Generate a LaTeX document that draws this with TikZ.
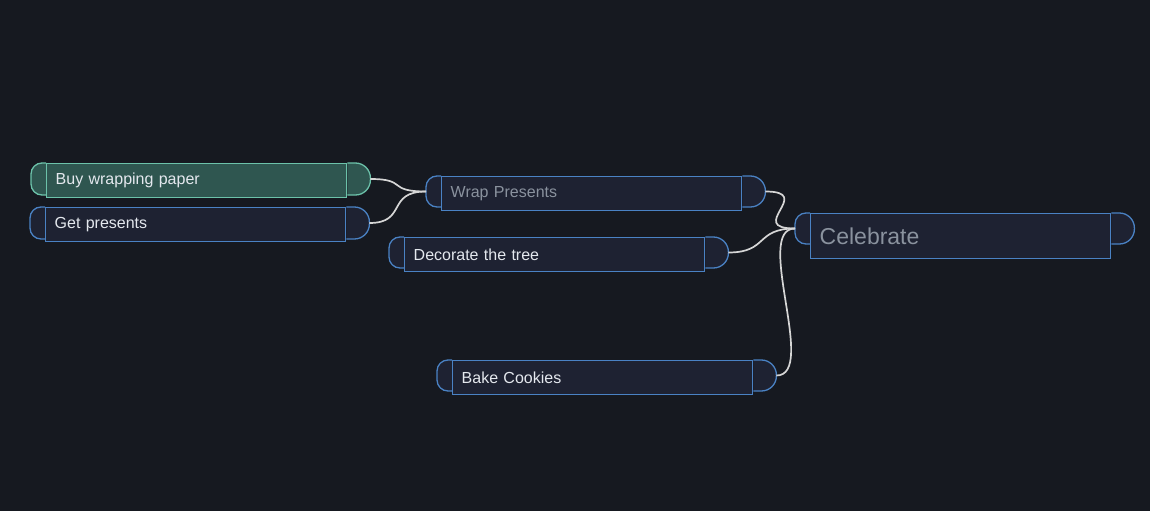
\documentclass[tikz,border=0pt]{standalone}
\usepackage{fontspec}
\setmainfont{Liberation Sans}
\usetikzlibrary{backgrounds}
\definecolor{bgc}{HTML}{161920}
\definecolor{bf}{HTML}{1E2232}
\definecolor{bl}{HTML}{4A82C4}
\definecolor{tf}{HTML}{2F5650}
\definecolor{tl}{HTML}{6CC2AA}
\definecolor{tx}{HTML}{E4E8EE}
\definecolor{gt}{HTML}{8A929E}
\definecolor{cn}{HTML}{D6D6D6}
\tikzset{
  box/.style={draw=bl, fill=bf, line width=1.4pt, minimum height=34pt,
    text width=282pt, inner xsep=9pt, inner ysep=0pt, align=left,
    anchor=north west, font=\fontsize{16}{18}\selectfont, text=tx},
  conn/.style={draw=cn, line width=1.7pt},
}
% #1 node, #2 cap height, #3 fill, #4 draw
\newcommand\mkcaps[4]{%
  \path[fill=#3, draw=#4, line width=1.3pt, rounded corners=11pt]
    (#1.north west) -- ++(-15,0) -- ++(0,#2) -- ++(15,0);
  \path[fill=#3, draw=#4, line width=1.3pt, rounded corners=15pt]
    (#1.north east) -- ++(23,0) -- ++(0,#2) -- ++(-23,0);
}
\newcommand\mkports[2]{%
  \coordinate (#1-in) at ([shift={(-15,{#2/2})}]#1.north west);
  \coordinate (#1-out) at ([shift={(23,{#2/2})}]#1.north east);
}
\begin{document}
\begin{tikzpicture}[x=1pt, y=-1pt]
\useasboundingbox (0,0) rectangle (1150,511);

\node[box, draw=tl, fill=tf] (buy) at (46,163) {Buy wrapping paper};
\node[box] (get) at (45,207) {Get presents};
\node[box, text=gt] (wrap) at (441,176) {Wrap Presents};
\node[box] (deco) at (404,237) {Decorate the tree};
\node[box] (bake) at (452,360) {Bake Cookies};
\node[box, text=gt, minimum height=45pt, font=\fontsize{23}{26}\selectfont] (cel) at (810,213) {Celebrate};

\mkports{buy}{32}
\mkports{get}{32}
\mkports{wrap}{31}
\mkports{deco}{31}
\mkports{bake}{31}
\mkports{cel}{31}

\draw[conn] (buy-out) .. controls +(38,0) and +(-40,0) .. (wrap-in);
\draw[conn] (get-out) .. controls +(38,0) and +(-40,0) .. (wrap-in);
\draw[conn] (wrap-out) .. controls +(50,0) and +(-50,0) .. (cel-in);
\draw[conn] (deco-out) .. controls +(40,0) and +(-40,0) .. (cel-in);
\draw[conn] (bake-out) .. controls +(42,0) and +(-42,0) .. (cel-in);

\begin{pgfonlayer}{background}
\fill[bgc] (0,0) rectangle (1150,511);
\mkcaps{buy}{32}{tf}{tl}
\mkcaps{get}{32}{bf}{bl}
\mkcaps{wrap}{31}{bf}{bl}
\mkcaps{deco}{31}{bf}{bl}
\mkcaps{bake}{31}{bf}{bl}
\mkcaps{cel}{31}{bf}{bl}
\end{pgfonlayer}
\end{tikzpicture}
\end{document}
